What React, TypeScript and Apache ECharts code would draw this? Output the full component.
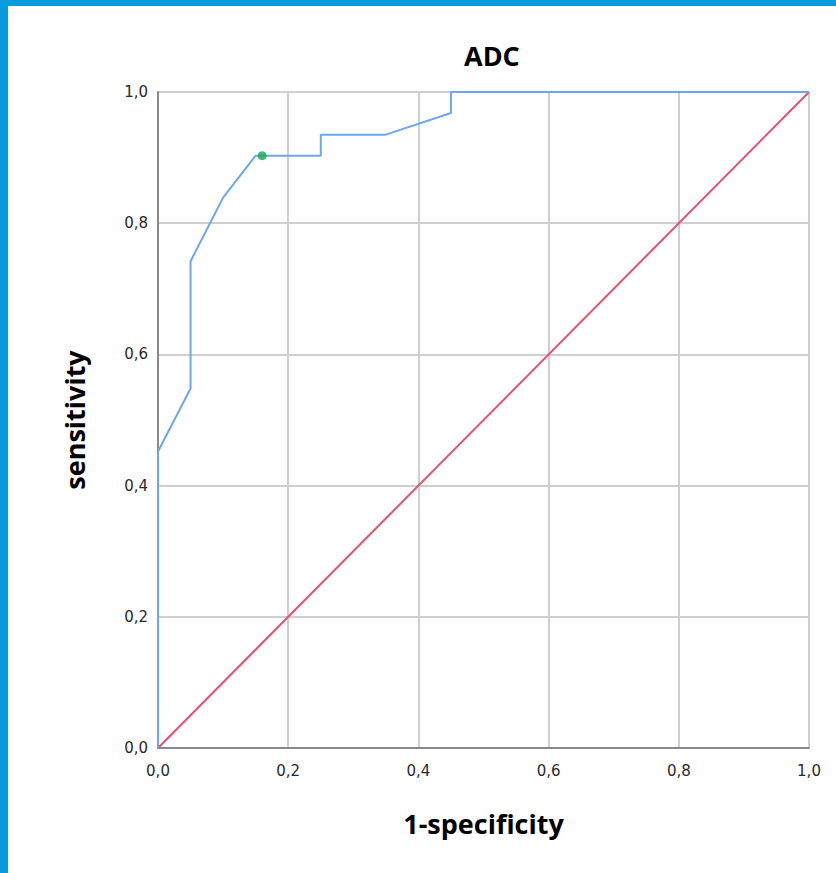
import React, { useEffect, useRef } from "react";
import * as echarts from "echarts";

const rocX = [0, 0, 0.05, 0.05, 0.1, 0.15, 0.25, 0.25, 0.35, 0.45, 0.45, 1.0];
const rocY = [0, 0.452, 0.548, 0.742, 0.839, 0.903, 0.903, 0.935, 0.935, 0.968, 1.0, 1.0];
const refX = [0, 1];
const refY = [0, 1];
const cutoff = [[0.16, 0.903]];

const fmt = (v: number) => v.toFixed(1).replace(".", ",");

export default function App() {
  const ref = useRef<HTMLDivElement>(null);
  useEffect(() => {
    document.body.style.margin = "0";
    const chart = echarts.init(ref.current!, null, { renderer: "svg" });
    const gridColor = "#cfcfcf";
    const nameStyle = { fontFamily: "Open Sans", fontWeight: "bold", fontSize: 27, color: "#000" };
    const labelStyle = { fontFamily: "DejaVu Sans", fontSize: 15, color: "#2a2a2a" };
    chart.setOption({
      animation: false,
      backgroundColor: "#ffffff",
      title: {
        text: "ADC",
        left: 459,
        top: 37,
        textStyle: nameStyle,
      },
      graphic: [
        { type: "rect", shape: { x: 0, y: 0, width: 836, height: 6 }, style: { fill: "#0a9ade" } },
        { type: "rect", shape: { x: 0, y: 0, width: 8, height: 873 }, style: { fill: "#0a9ade" } },
      ],
      grid: { left: 158, top: 92, width: 651, height: 656, containLabel: false },
      xAxis: {
        type: "value",
        min: 0,
        max: 1,
        interval: 0.2,
        name: "1-specificity",
        nameLocation: "middle",
        nameGap: 62,
        nameTextStyle: nameStyle,
        axisLine: { show: true, lineStyle: { color: "#8a8a8a", width: 2 } },
        axisTick: { show: false },
        axisLabel: { formatter: fmt, ...labelStyle, margin: 15 },
        splitLine: { show: true, lineStyle: { color: gridColor, width: 2 } },
      },
      yAxis: {
        type: "value",
        min: 0,
        max: 1,
        interval: 0.2,
        name: "sensitivity",
        nameLocation: "middle",
        nameGap: 70,
        nameTextStyle: nameStyle,
        axisLine: { show: true, lineStyle: { color: "#8a8a8a", width: 2 } },
        axisTick: { show: false },
        axisLabel: { formatter: fmt, ...labelStyle, margin: 10 },
        splitLine: { show: true, lineStyle: { color: gridColor, width: 2 } },
      },
      series: [
        {
          type: "line",
          data: refX.map((x, i) => [x, refY[i]]),
          symbol: "none",
          lineStyle: { color: "#e8506e", width: 2 },
          z: 3,
        },
        {
          type: "line",
          data: rocX.map((x, i) => [x, rocY[i]]),
          symbol: "none",
          lineStyle: { color: "#6ea6ee", width: 2 },
          z: 4,
        },
        {
          type: "scatter",
          data: cutoff,
          symbol: "circle",
          symbolSize: 9,
          itemStyle: { color: "#17a84e" },
          z: 5,
        },
      ],
    });
    return () => chart.dispose();
  }, []);
  return <div ref={ref} style={{ width: 836, height: 873 }} />;
}
